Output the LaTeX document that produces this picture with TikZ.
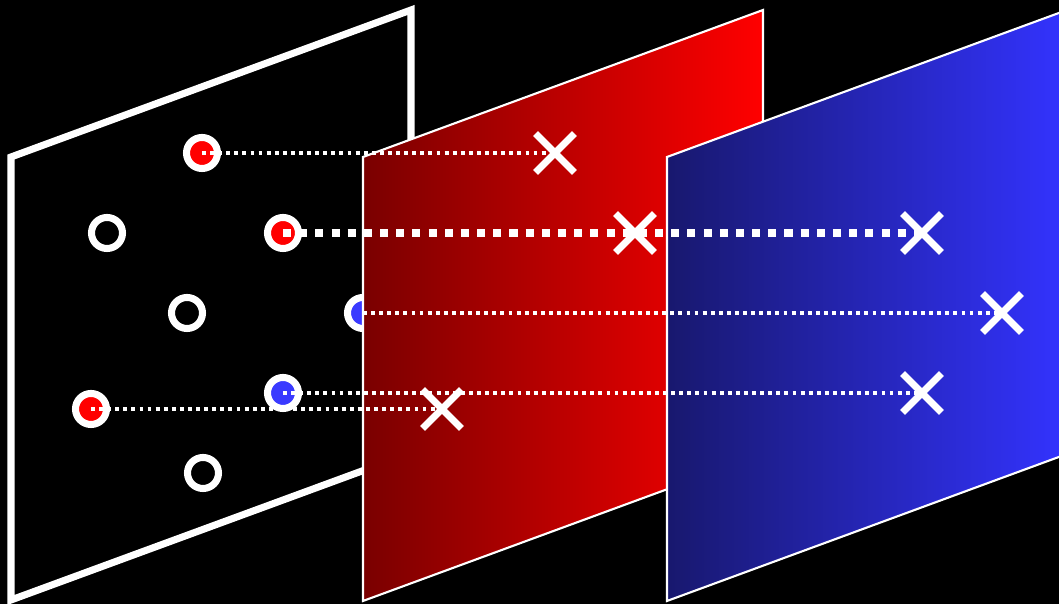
\documentclass[tikz,border=0pt]{standalone}
\usepackage{tikz}
\usepackage{xcolor}
\usetikzlibrary{shapes.misc}

\definecolor{panelredL}{RGB}{122,0,0}
\definecolor{panelredR}{RGB}{255,0,0}
\definecolor{panelblueL}{RGB}{24,24,110}
\definecolor{panelblueR}{RGB}{51,51,255}
\definecolor{dotred}{RGB}{255,0,0}
\definecolor{dotblue}{RGB}{58,58,255}

\begin{document}
\begin{tikzpicture}[x=0.01cm, y=-0.01cm,
    point/.style={circle, draw=white, line width=2pt, minimum size=0.31cm, inner sep=0pt},
    hit/.style={cross out, draw=white, line width=1.95pt, minimum size=0.32cm, inner sep=0pt},
    thindots/.style={white, line width=1.1pt, dash pattern=on 1.1pt off 1.2pt},
    thickdots/.style={white, line width=2.3pt, dash pattern=on 2.3pt off 2.3pt}]
    % Background
    \useasboundingbox (0,0) rectangle (1059,604);
    \fill[black] (0,0) rectangle (1059,604);
    \clip (0,0) rectangle (1059,604);

    % Input plane (outline only)
    \draw[white, line width=2pt] (11,157) -- (411,10) -- (411,453) -- (11,600) -- cycle;

    % Points on the input plane
    \foreach \name/\x/\y/\col in {r1/202/153/dotred, e1/107/233/black, r2/283/233/dotred,
                                  e2/187/313/black, b1/363/313/dotblue, r3/91/409/dotred,
                                  b2/283/393/dotblue, e3/203/473/black}
        \node[point, fill=\col] (\name) at (\x,\y) {};

    % Red plane
    \shadedraw[draw=white, line width=0.6pt, left color=panelredL, right color=panelredR]
        (363,157) -- (763,10) -- (763,454) -- (363,601) -- cycle;

    % Blue plane
    \shadedraw[draw=white, line width=0.6pt, left color=panelblueL, right color=panelblueR]
        (667,157) -- (1067,10) -- (1067,454) -- (667,601) -- cycle;

    % Hits
    \node[hit] (x1) at (555,153) {};
    \node[hit] (x2) at (635,233) {};
    \node[hit] (x3) at (922,233) {};
    \node[hit] (x4) at (1002,313) {};
    \node[hit] (x5) at (922,393) {};
    \node[hit] (x6) at (442,409) {};

    % Rays from points to hits
    \draw[thindots] (r1.center) -- (x1.center);
    \draw[thickdots] (r2.center) -- (x3.center);
    \draw[thindots] (b1.center) -- (x4.center);
    \draw[thindots] (b2.center) -- (x5.center);
    \draw[thindots] (r3.center) -- (x6.center);
\end{tikzpicture}
\end{document}
